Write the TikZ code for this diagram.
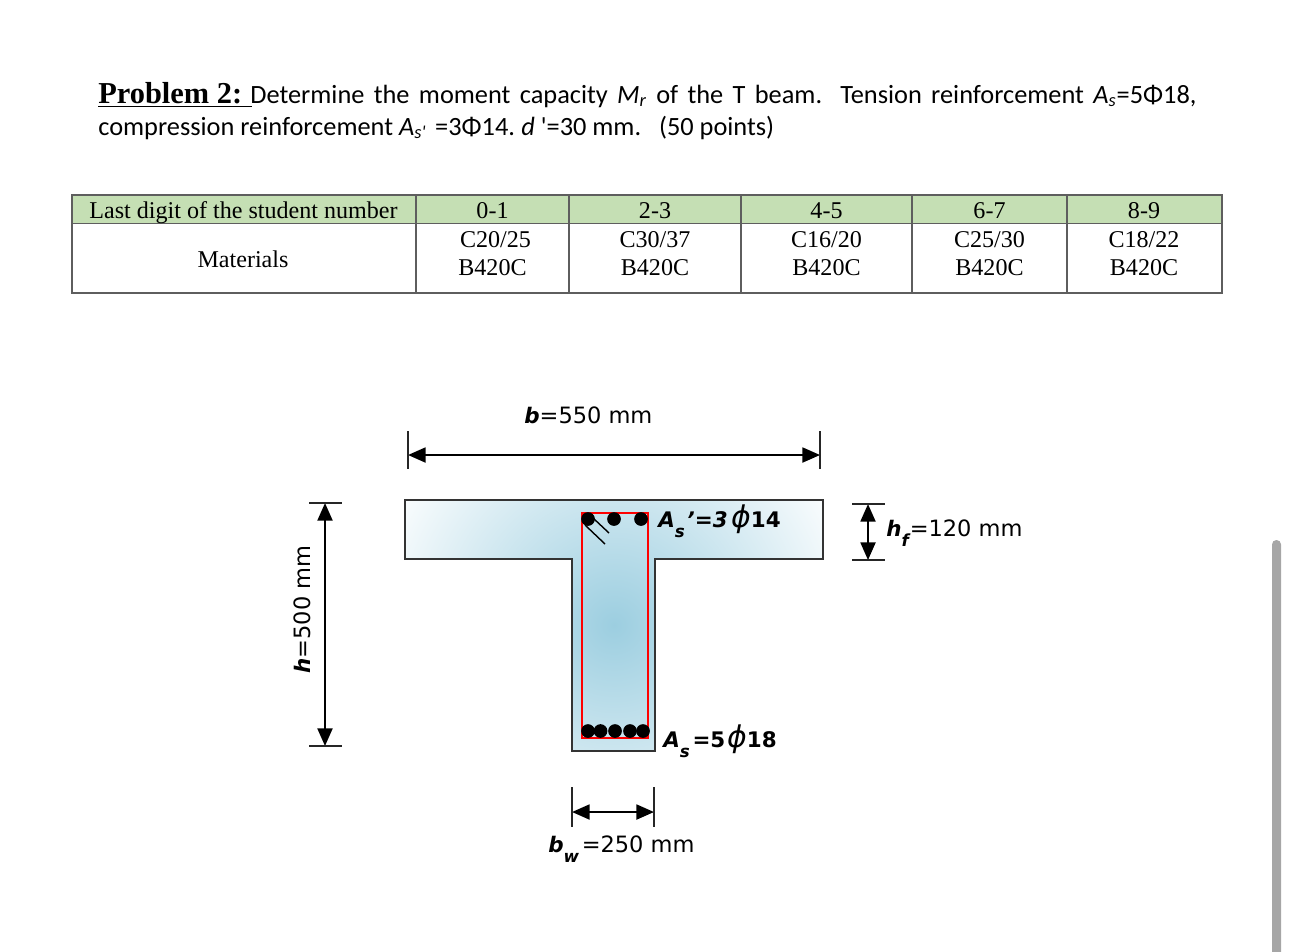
\documentclass[tikz,border=0pt]{standalone}
\usepackage{fontspec}
\setmainfont{Liberation Serif}
\setsansfont{DejaVu Sans}
\newfontfamily\notefont{Carlito}
\usetikzlibrary{arrows.meta}
\definecolor{headgreen}{HTML}{C5DFB4}
\definecolor{beamblue}{HTML}{9CCEE0}
\definecolor{rulegray}{HTML}{5E5E5E}
\newcommand{\dimfont}{\sffamily\fontsize{12.8}{15}\selectfont}
\newcommand{\ib}[1]{{\fontsize{12.2}{15}\selectfont\bfseries\itshape #1}}
\newcommand{\sub}[1]{\raisebox{-6pt}{\fontsize{9.5}{11}\selectfont\bfseries\itshape #1}}
\newcommand{\bd}[1]{{\fontsize{12.2}{15}\selectfont\bfseries #1}}
\newcommand{\barsym}{\raisebox{-0.5pt}{\fontsize{17}{17}\selectfont\itshape ϕ}}
\tikzset{
  dimline/.style={line width=1.2pt,draw=black,{Triangle[length=10pt,width=8.5pt]}-{Triangle[length=10pt,width=8.5pt]}},
  tickline/.style={line width=1pt,draw=black!85},
  cell/.style={font=\fontsize{13.7}{18}\selectfont,align=center,inner sep=0pt},
  bar/.style={circle,fill=black,inner sep=0pt,minimum size=7.8pt},
  dimtext/.style={font=\dimfont,anchor=base west,inner sep=0pt},
  tablerule/.style={draw=rulegray,line width=0.65pt},
  notetext/.style={anchor=base west,inner sep=0pt,font=\notefont\fontsize{15}{18}\selectfont}
}
\begin{document}
\begin{tikzpicture}[x=0.02cm,y=-0.02cm]
\useasboundingbox (0,0) rectangle (1290,951);
% text of the problem
\node[anchor=base west,inner sep=0pt,font=\bfseries\fontsize{17.3}{20}\selectfont] (problem) at (98,103)
  {\underline{Problem 2:\hspace{5.5pt}}};
\node[notetext] (statement) at (250,103)
  {\makebox[538.5pt][s]{Determine the moment capacity \textit{M\textsubscript{r}} of the T beam. Tension reinforcement \textit{A\textsubscript{s}}=5Φ18,}};
\node[notetext] (points) at (98,135)
  {compression reinforcement \textit{A\textsubscript{s'}}\hspace{5pt}=3Φ14.\hspace{-1pt} \textit{d} '=30 mm.\ \ \ (50 points)};
% table
\fill[headgreen] (72,195) rectangle (1222,223.5);
\draw[tablerule] (72,195) rectangle (1222,293);
\draw[tablerule] (72,223.5) -- (1222,223.5);
\foreach \x in {416,569,741,912,1067} {\draw[tablerule] (\x,195) -- (\x,293);}
\node[cell] (lastdigit) at (243.5,212) {Last digit of the student number\strut};
\node[cell] (materials) at (243,261.5) {Materials\strut};
\foreach \x/\cx/\dg/\cl/\nm in {492.5/495.5/0-1/C20\slash 25/a,655/655/2-3/C30\slash 37/b,826.5/826.5/4-5/C16\slash 20/c,989.5/989.5/6-7/C25\slash 30/d,1144/1144/8-9/C18\slash 22/e} {
  \node[cell] (digit\nm) at (\x,212) {\dg\strut};
  \node[cell] (class\nm) at (\cx,241) {\cl\strut};
  \node[cell] (steel\nm) at (\x,269) {B420C\strut};
}
% T section
\draw[draw=black!80,line width=1.1pt,path picture={\fill[inner color=beamblue,outer color=white] (614,625) circle [radius=5.2cm];}]
  (405,500) -- (823,500) -- (823,559) -- (655,559) -- (655,751) -- (572,751) -- (572,559) -- (405,559) -- cycle;
\draw[red,line width=0.9pt] (582,513) rectangle (648,738);
\coordinate (hooka) at (593,518);
\coordinate (hookb) at (609,533);
\coordinate (hookc) at (585,525);
\coordinate (hookd) at (605,544);
\draw[line width=0.8pt] (hooka) -- (hookb);
\draw[line width=0.8pt] (hookc) -- (hookd);
\foreach \x/\nm in {588/a,614/b,641/c} {\node[bar] (top\nm) at (\x,519) {};}
\foreach \x/\nm in {588/a,600.5/b,615/c,630/d,643/e} {\node[bar] (bot\nm) at (\x,731) {};}
% dimensions
\coordinate (bleft) at (408,455);
\coordinate (bright) at (820,455);
\draw[dimline] (bleft) -- (bright);
\draw[tickline] (408,431) -- (408,469);
\draw[tickline] (820,431) -- (820,469);
\coordinate (htop) at (325,503);
\coordinate (hbot) at (325,746);
\draw[dimline] (htop) -- (hbot);
\draw[tickline] (309,503) -- (342,503);
\draw[tickline] (309,746) -- (342,746);
\coordinate (ftop) at (868,504);
\coordinate (fbot) at (868,560);
\draw[dimline] (ftop) -- (fbot);
\draw[tickline] (852,504) -- (885,504);
\draw[tickline] (852,560) -- (885,560);
\coordinate (wleft) at (572,812);
\coordinate (wright) at (654,812);
\draw[dimline] (wleft) -- (wright);
\draw[tickline] (572,787) -- (572,827);
\draw[tickline] (654,787) -- (654,827);
% labels
\node[dimtext] (blabel) at (524,423) {\ib{b}=550 mm};
\node[dimtext,rotate=90] (hlabel) at (310,674) {\ib{h}=500 mm};
\node[dimtext] (flabel) at (886,536) {\ib{h}\sub{f}\hspace{0.5pt}=120 mm};
\node[dimtext] (wlabel) at (548,852) {\ib{b}\sub{w}\hspace{1.5pt}=250 mm};
\node[dimtext] (tlabel) at (658,527) {\ib{A}\sub{s}\hspace{1pt}\ib{\char39=3}\hspace{2pt}\barsym\bd{14}};
\node[dimtext] (slabel) at (663,747) {\ib{A}\sub{s}\hspace{1.5pt}\bd{=5}\hspace{1pt}\barsym\bd{18}};
% scroll bar
\fill[black!35,rounded corners=2.5pt] (1272,540) -- (1272,960) -- (1281,960) -- (1281,540) -- cycle;
\end{tikzpicture}
\end{document}
